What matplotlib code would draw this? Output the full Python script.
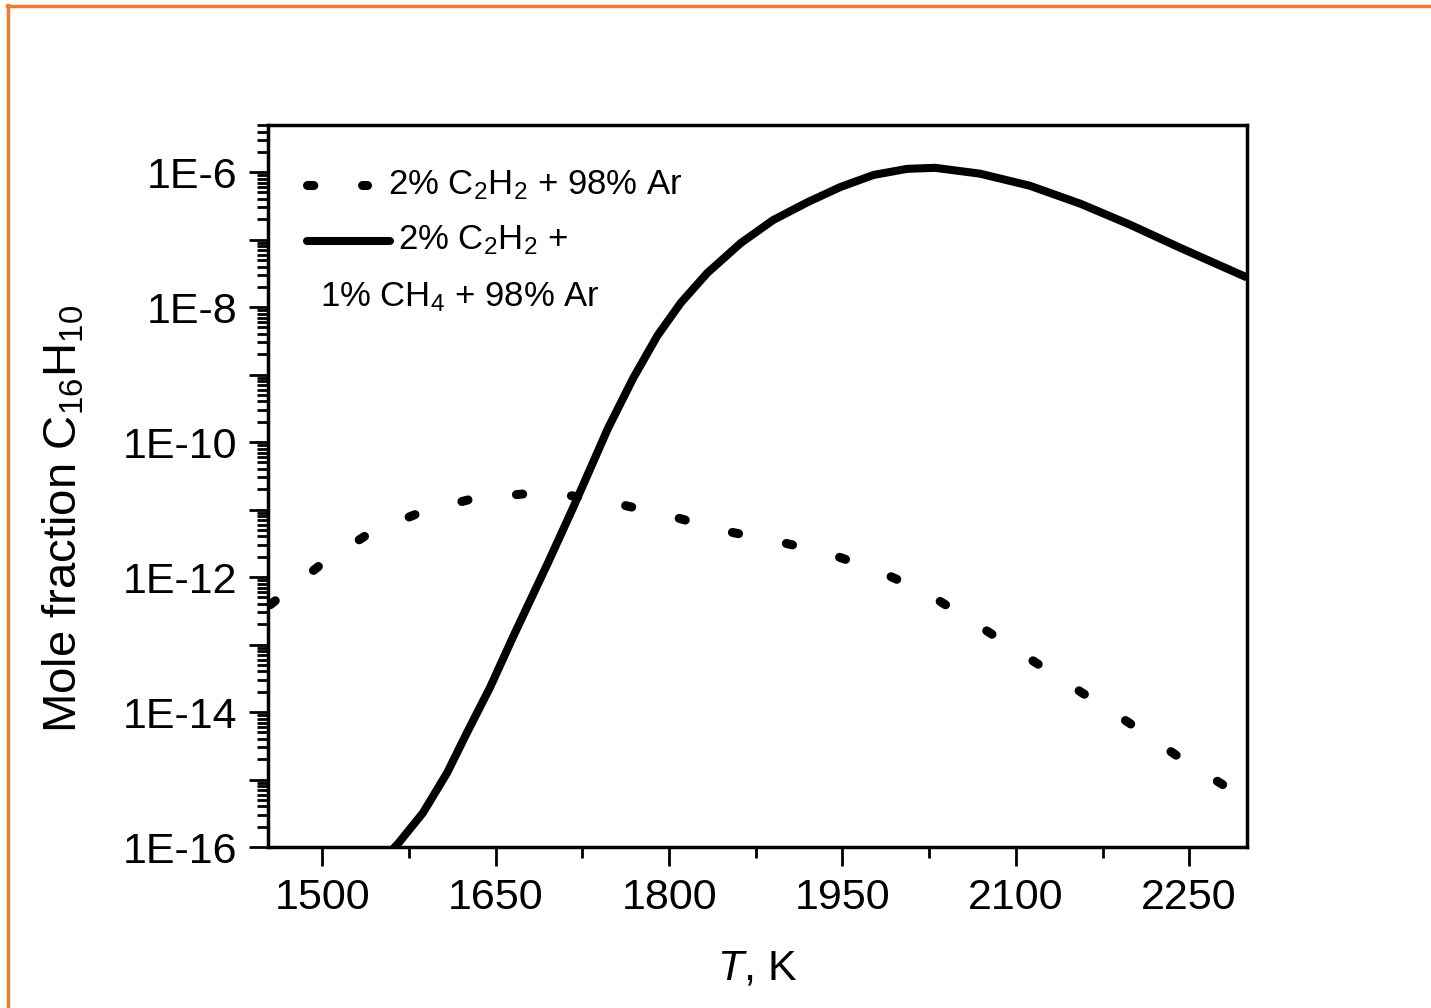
import numpy as np
import matplotlib
matplotlib.use("Agg")
import matplotlib.pyplot as plt
from matplotlib.lines import Line2D
from matplotlib.ticker import LogLocator, FuncFormatter, MultipleLocator, NullFormatter

plt.rcParams["font.family"] = ["Liberation Sans", "DejaVu Sans"]
plt.rcParams["mathtext.fontset"] = "custom"
plt.rcParams["mathtext.rm"] = "Liberation Sans"
plt.rcParams["mathtext.it"] = "Liberation Sans:italic"

# 2% C2H2 + 98% Ar (dotted)
t_ar = [1455, 1498, 1541, 1585, 1630, 1673, 1716, 1760, 1804, 1849, 1893,
        1936, 1980, 2023, 2067, 2110, 2154, 2197, 2242, 2287, 2300]
x_ar = [3.9e-13, 1.5e-12, 4.5e-12, 9.1e-12, 1.45e-11, 1.7e-11, 1.6e-11, 1.17e-11,
        7.8e-12, 4.8e-12, 3.4e-12, 2.3e-12, 1.26e-12, 5.8e-13, 1.95e-13, 6.5e-14,
        2.1e-14, 7.1e-15, 2.1e-15, 6.9e-16, 5.0e-16]

# 2% C2H2 + 1% CH4 + 98% Ar (solid)
t_ch4 = [1560, 1566, 1587, 1608, 1625, 1645, 1665, 1695, 1717, 1747, 1769,
         1790, 1810, 1833, 1862, 1890, 1920, 1948, 1977, 2006, 2030, 2069,
         2112, 2156, 2199, 2242, 2300]
x_ch4 = [8.9e-17, 1.15e-16, 3.2e-16, 1.26e-15, 4.9e-15, 2.3e-14, 1.3e-13, 1.6e-12,
         1.07e-11, 1.58e-10, 8.9e-10, 3.8e-9, 1.15e-8, 3.2e-8, 8.9e-8, 1.95e-7,
         3.6e-7, 6.0e-7, 9.1e-7, 1.12e-6, 1.16e-6, 9.5e-7, 6.3e-7, 3.4e-7,
         1.66e-7, 7.6e-8, 2.75e-8]

label_ar = "2% C$_2$H$_2$ + 98% Ar"
label_ch4_1 = "2% C$_2$H$_2$ +"
label_ch4_2 = "1% CH$_4$ + 98% Ar"

DOT_STYLE = dict(color="black", lw=6.5, linestyle=(0, (0.7, 5.4)),
                 dash_capstyle="round", solid_capstyle="round")

fig = plt.figure(figsize=(14.31, 10.08), dpi=100)
ax = fig.add_axes([0.1873, 0.1597, 0.6841, 0.7163])

ax.plot(t_ar, x_ar, **DOT_STYLE)
ax.plot(t_ch4, x_ch4, color="black", lw=5.8, solid_capstyle="butt",
        solid_joinstyle="round")

ax.set_yscale("log")
ax.set_xlim(1453, 2300)
ax.set_ylim(1e-16, 5e-6)

# ticks
ax.xaxis.set_major_locator(MultipleLocator(150))
ax.xaxis.set_minor_locator(MultipleLocator(75))
ax.yaxis.set_major_locator(LogLocator(base=10, numticks=30))
ax.yaxis.set_minor_locator(LogLocator(base=10, subs=np.arange(2, 10), numticks=30))
ax.yaxis.set_minor_formatter(NullFormatter())


def fmt_y(v, pos):
    e = int(round(np.log10(v)))
    return f"1E{e}" if e % 2 == 0 else ""


ax.yaxis.set_major_formatter(FuncFormatter(fmt_y))
ax.tick_params(which="both", direction="out", top=False, right=False,
               labelsize=31, width=2, pad=8)
ax.tick_params(which="major", length=14)
ax.tick_params(which="minor", length=8)
for sp in ax.spines.values():
    sp.set_linewidth(2.5)

ax.set_xlabel("$T$, K", fontsize=31, labelpad=22)
ax.set_ylabel("Mole fraction C$_{16}$H$_{10}$", fontsize=34)
ax.yaxis.set_label_coords(-0.185, 0.455)

# legend
ax.plot([0.040, 0.101], [0.917, 0.917], transform=ax.transAxes, **DOT_STYLE)
ax.plot([0.040, 0.125], [0.840, 0.840], transform=ax.transAxes,
        color="black", lw=5.8, solid_capstyle="round")
ax.text(0.123, 0.917, label_ar, transform=ax.transAxes, fontsize=25, va="center")
ax.text(0.133, 0.840, label_ch4_1, transform=ax.transAxes, fontsize=25, va="center")
ax.text(0.053, 0.762, label_ch4_2, transform=ax.transAxes, fontsize=25, va="center")

# orange frame (top and left edges)
orange = "#ED7D31"
fig.add_artist(Line2D([7 / 1431, 1], [1 - 6 / 1008, 1 - 6 / 1008],
                      transform=fig.transFigure, color=orange, lw=2.5))
fig.add_artist(Line2D([8 / 1431, 8 / 1431], [0, 1 - 5 / 1008],
                      transform=fig.transFigure, color=orange, lw=2.5))

fig.savefig("out.png", dpi=100)
